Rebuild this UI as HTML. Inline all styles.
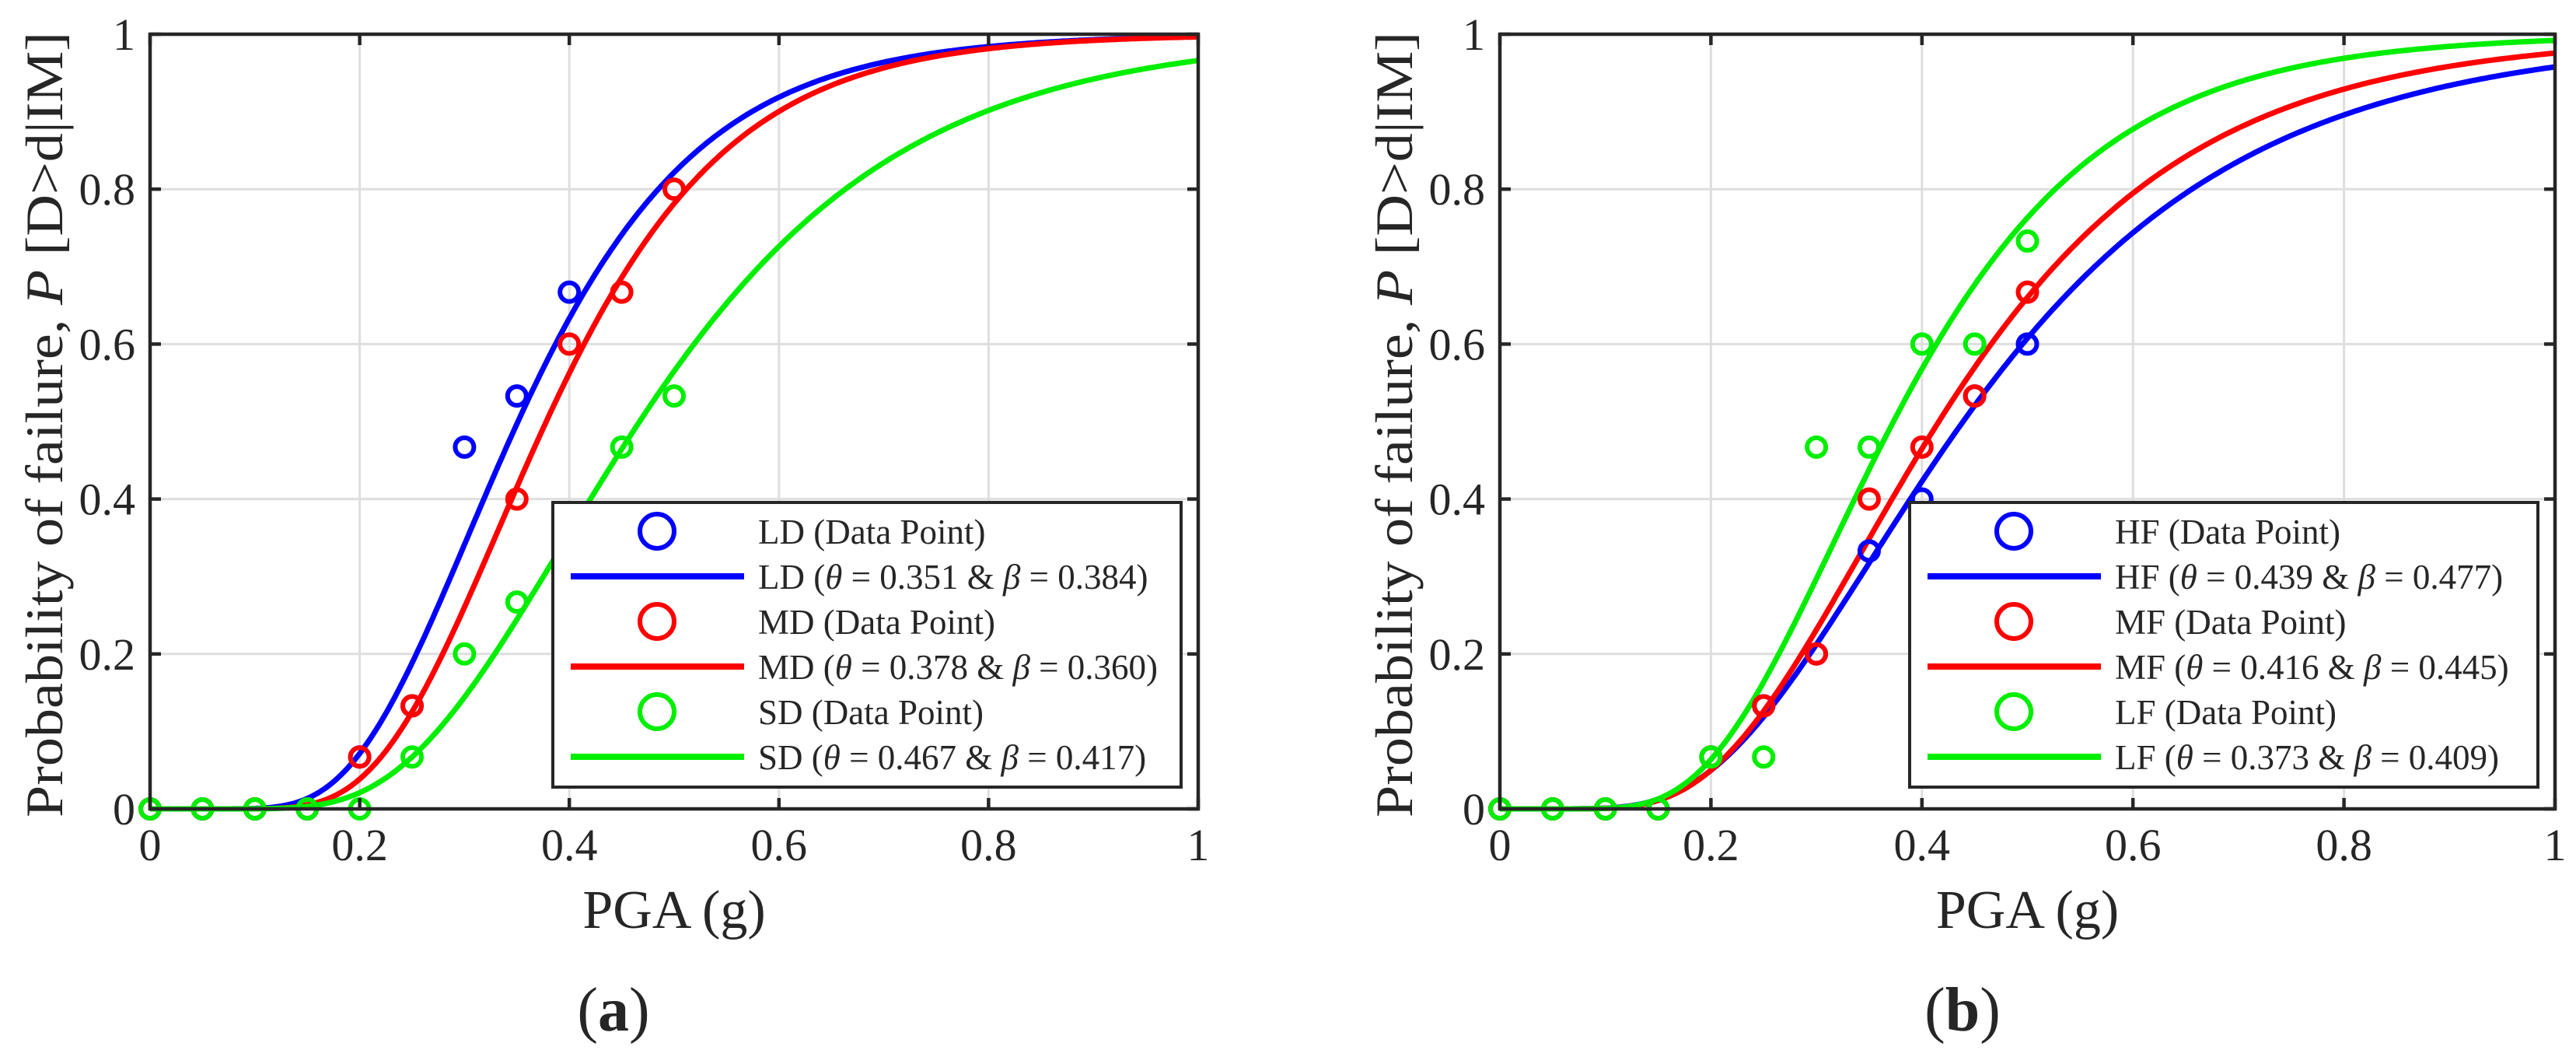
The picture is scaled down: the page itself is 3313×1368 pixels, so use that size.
<!DOCTYPE html>
<html><head><meta charset="utf-8"><style>
html,body{margin:0;padding:0;background:#fff}
svg{display:block}
text{font-family:"Liberation Serif","DejaVu Serif",serif;fill:#262626}
</style></head><body>
<svg id="fig" width="3313" height="1368" viewBox="0 0 3313 1368" xmlns="http://www.w3.org/2000/svg"></svg>
<script>
// ---- data ----
const xTicks = [0, 0.2, 0.4, 0.6, 0.8, 1];
const yTicks = [0, 0.2, 0.4, 0.6, 0.8, 1];
const tickLabels = ["0", "0.2", "0.4", "0.6", "0.8", "1"];
// panel a
const aNames = ["LD", "MD", "SD"];
const aTheta = [0.351, 0.378, 0.467];
const aBeta = [0.384, 0.360, 0.417];
const aLDx = [0, 0.05, 0.1, 0.15, 0.2, 0.25, 0.3, 0.35, 0.4];
const aLDy = [0, 0, 0, 0, 0.067, 0.133, 0.467, 0.533, 0.667];
const aMDx = [0, 0.05, 0.1, 0.15, 0.2, 0.25, 0.35, 0.4, 0.45, 0.5];
const aMDy = [0, 0, 0, 0, 0.067, 0.133, 0.4, 0.6, 0.667, 0.8];
const aSDx = [0, 0.05, 0.1, 0.15, 0.2, 0.25, 0.3, 0.35, 0.45, 0.5];
const aSDy = [0, 0, 0, 0, 0, 0.067, 0.2, 0.267, 0.467, 0.533];
// panel b
const bNames = ["HF", "MF", "LF"];
const bTheta = [0.439, 0.416, 0.373];
const bBeta = [0.477, 0.445, 0.409];
const bHFx = [0, 0.05, 0.1, 0.15, 0.2, 0.25, 0.3, 0.35, 0.4, 0.45, 0.5];
const bHFy = [0, 0, 0, 0, 0.067, 0.133, 0.2, 0.333, 0.4, 0.533, 0.6];
const bMFx = [0, 0.05, 0.1, 0.15, 0.2, 0.25, 0.3, 0.35, 0.4, 0.45, 0.5];
const bMFy = [0, 0, 0, 0, 0.067, 0.133, 0.2, 0.4, 0.467, 0.533, 0.667];
const bLFx = [0, 0.05, 0.1, 0.15, 0.2, 0.25, 0.3, 0.35, 0.4, 0.45, 0.5];
const bLFy = [0, 0, 0, 0, 0.067, 0.067, 0.467, 0.467, 0.6, 0.6, 0.733];

const colors = ["#0000ff", "#ff0000", "#00ee00"];
const NS = "http://www.w3.org/2000/svg";
const svg = document.getElementById("fig");
function mk(tag, attrs, parent) {
  const e = document.createElementNS(NS, tag);
  for (const k in attrs) e.setAttribute(k, attrs[k]);
  (parent || svg).appendChild(e);
  return e;
}
function erf(x) {
  const s = x < 0 ? -1 : 1; x = Math.abs(x);
  const t = 1 / (1 + 0.3275911 * x);
  const y = 1 - (((((1.061405429 * t - 1.453152027) * t) + 1.421413741) * t - 0.284496736) * t + 0.254829592) * t * Math.exp(-x * x);
  return s * y;
}
function cdf(x, th, be) { if (x <= 0) return 0; return 0.5 * (1 + erf(Math.log(x / th) / (be * Math.SQRT2))); }

function panel(opt) {
  const L = opt.left, R = opt.right, T = 44, B = 1040;
  const sx = v => L + v * (R - L);
  const sy = v => B - v * (B - T);
  const g = mk("g", {});
  
  
  xTicks.forEach((v, i) => {
    if (i > 0 && i < xTicks.length - 1) {
      const l = mk("line", {x1: sx(v), x2: sx(v), y1: T, y2: B, stroke: "#dedede", "stroke-width": 3}, g);
      
      
    }
  });
  yTicks.forEach((v, i) => {
    if (i > 0 && i < yTicks.length - 1) {
      const l = mk("line", {x1: L, x2: R, y1: sy(v), y2: sy(v), stroke: "#dedede", "stroke-width": 3}, g);
      
      
    }
  });
  opt.theta.forEach((th, k) => {
    let d = "";
    for (let i = 0; i <= 400; i++) {
      const x = i / 400;
      d += (i ? "L" : "M") + sx(x).toFixed(1) + "," + sy(cdf(x, th, opt.beta[k])).toFixed(1);
    }
    const p = mk("path", {d: d, fill: "none", stroke: colors[k], "stroke-width": 7}, g);
    
    
  });
  opt.pts.forEach((s, k) => {
    s[0].forEach((x, i) => {
      const c = mk("circle", {cx: sx(x), cy: sy(s[1][i]), r: 12, fill: "none", stroke: colors[k], "stroke-width": 6}, g);
      
      
    });
  });
  const box = mk("rect", {x: L, y: T, width: R - L, height: B - T, fill: "none", stroke: "#262626", "stroke-width": 4.5}, g);
  
  
  xTicks.forEach((v, i) => {
    mk("line", {x1: sx(v), x2: sx(v), y1: B, y2: B - 14, stroke: "#262626", "stroke-width": 4.5}, g);
    mk("line", {x1: sx(v), x2: sx(v), y1: T, y2: T + 14, stroke: "#262626", "stroke-width": 4.5}, g);
    const t = mk("text", {x: sx(v), y: 1106, "font-size": 58, "text-anchor": "middle"}, g);
    t.textContent = tickLabels[i];
    
    
  });
  yTicks.forEach((v, i) => {
    mk("line", {x1: L, x2: L + 14, y1: sy(v), y2: sy(v), stroke: "#262626", "stroke-width": 4.5}, g);
    mk("line", {x1: R, x2: R - 14, y1: sy(v), y2: sy(v), stroke: "#262626", "stroke-width": 4.5}, g);
    const t = mk("text", {x: L - 19, y: sy(v) + 20, "font-size": 58, "text-anchor": "end"}, g);
    t.textContent = tickLabels[i];
    
    
  });
  const xt = mk("text", {x: (L + R) / 2, y: 1193, "font-size": 70, "text-anchor": "middle"}, g);
  xt.textContent = "PGA (g)";
  
  
  const yx = L - 113, yy = 546;
  const yt = mk("text", {x: yx, y: yy, "font-size": 68, "text-anchor": "middle", transform: `rotate(-90 ${yx} ${yy})`, textLength: 1010, lengthAdjust: "spacingAndGlyphs"}, g);
  yt.innerHTML = 'Probability of failure, <tspan font-style="italic">P</tspan> [D&gt;d|IM]';
  
  
  const cap = mk("text", {x: opt.capX, y: 1325, "font-size": 80, "text-anchor": "middle"}, g);
  cap.innerHTML = '(<tspan font-weight="bold">' + opt.cap + '</tspan>)';
  
  
  const lx = R - 22 - 808, ly = 646, lw = 808, lh = 366;
  const lg = mk("g", {}, g);
  
  
  mk("rect", {x: lx, y: ly, width: lw, height: lh, fill: "#fff", stroke: "#262626", "stroke-width": 4}, lg);
  opt.names.forEach((n, k) => {
    const cy1 = ly + 37 + k * 116, cy2 = cy1 + 58;
    const mc = mk("circle", {cx: lx + 134, cy: cy1, r: 22, fill: "none", stroke: colors[k], "stroke-width": 6}, lg);
    
    
    const t1 = mk("text", {x: lx + 264, y: cy1 + 16, "font-size": 45, fill: "#000"}, lg);
    t1.textContent = n + " (Data Point)";
    
    
    const ls = mk("line", {x1: lx + 23, x2: lx + 246, y1: cy2, y2: cy2, stroke: colors[k], "stroke-width": 8}, lg);
    
    
    const t2 = mk("text", {x: lx + 264, y: cy2 + 16, "font-size": 45, fill: "#000"}, lg);
    t2.innerHTML = n + ' (<tspan font-style="italic">θ</tspan> = ' + opt.theta[k].toFixed(3) + ' &amp; <tspan font-style="italic">β</tspan> = ' + opt.beta[k].toFixed(3) + ')';
    
    
  });
}
panel({id: "panel-a", left: 193, right: 1541, names: aNames, theta: aTheta, beta: aBeta,
  pts: [[aLDx, aLDy], [aMDx, aMDy], [aSDx, aSDy]], cap: "a", capX: 789});
panel({id: "panel-b", left: 1929, right: 3286, names: bNames, theta: bTheta, beta: bBeta,
  pts: [[bHFx, bHFy], [bMFx, bMFy], [bLFx, bLFy]], cap: "b", capX: 2524});
</script>
</body></html>
